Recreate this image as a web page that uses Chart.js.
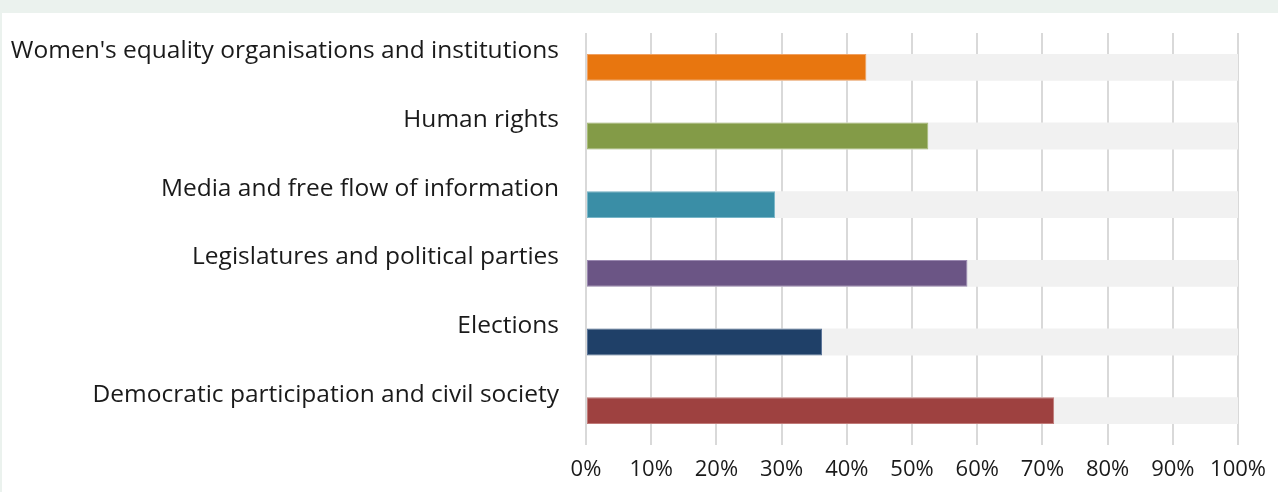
<!DOCTYPE html>
<html>
<head>
<meta charset="utf-8">
<script src="https://cdn.jsdelivr.net/npm/chart.js@4"></script>
<style>
  html, body { margin: 0; padding: 0; background: #ebf2ee; }
  #wrap { position: absolute; left: 2px; top: 13px; width: 1276px; height: 479px; background: #fff; }
</style>
</head>
<body>
<div id="wrap"><canvas id="myChart" width="1276" height="479"></canvas></div>
<script>
const categories = [
  "Women's equality organisations and institutions",
  "Human rights",
  "Media and free flow of information",
  "Legislatures and political parties",
  "Elections",
  "Democratic participation and civil society",
];
const shares = [43, 52.5, 29, 58.5, 36.2, 71.8];
const fullScale = [100, 100, 100, 100, 100, 100];
const barColors = ["#e8760f", "#839b47", "#3a8ea6", "#6b5585", "#1f4068", "#9e4140"];
const borderColors = ["#f0a060", "#a8bc78", "#78b6c8", "#9a88b0", "#5a7498", "#c07a78"];

const ctx = document.getElementById("myChart");

new Chart(ctx, {
  type: "bar",
  data: {
    labels: categories,
    datasets: [
      {
        data: shares,
        backgroundColor: barColors,
        borderColor: borderColors,
        borderWidth: 1,
        borderSkipped: false,
        grouped: false,
        barPercentage: 0.39,
        categoryPercentage: 1,
        order: 1,
      },
      {
        data: fullScale,
        backgroundColor: "#f1f1f1",
        grouped: false,
        barPercentage: 0.39,
        categoryPercentage: 1,
        order: 2,
      },
    ],
  },
  options: {
    indexAxis: "y",
    responsive: false,
    animation: false,
    layout: {
      padding: { top: 20, right: 39, left: 0, bottom: 0 },
    },
    plugins: {
      legend: { display: false },
      tooltip: { enabled: false },
    },
    scales: {
      x: {
        min: 0,
        max: 100,
        ticks: {
          stepSize: 10,
          color: "#1a1a1a",
          font: { family: "Open Sans", size: 22 },
          padding: 12,
          callback: (v) => v + "%",
        },
        grid: {
          color: "#d9d9d9",
          lineWidth: 2,
          drawTicks: false,
        },
        border: { display: false },
        afterFit: (scale) => { scale.height = 47; },
      },
      y: {
        ticks: {
          color: "#1a1a1a",
          font: { family: "Open Sans", size: 24.5 },
          padding: 19,
          labelOffset: -16,
        },
        grid: { display: false },
        border: { display: false },
        afterFit: (scale) => {
          scale.width = 584;
          scale.paddingTop = 0;
          scale.paddingBottom = 0;
        },
      },
    },
  },
});
</script>
</body>
</html>
